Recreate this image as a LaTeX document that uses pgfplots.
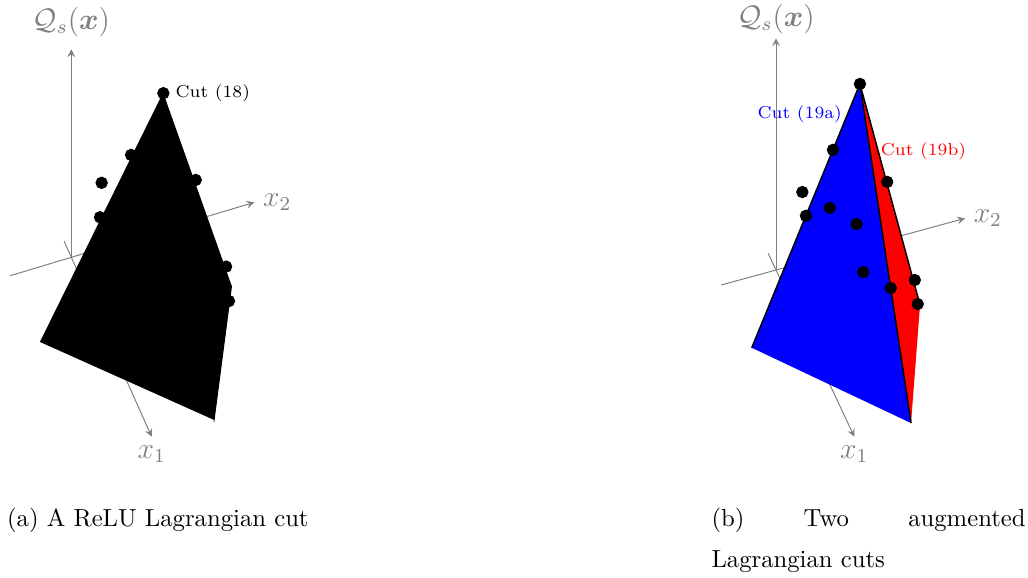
\documentclass[border=0pt]{standalone}
\usepackage{amsmath}
\usepackage{pgfplots}
\pgfplotsset{compat=1.18}

% 1 px of the reference = 0.405pt
\pgfplotsset{
  cutaxis/.style={
    axis lines=center,
    axis line style={gray},
    xtick=\empty, ytick=\empty, ztick=\empty,
    xmax=1, ymax=1, zmin=0, zmax=1,
    clip=false,
    xlabel={$x_1$}, ylabel={$x_2$}, zlabel={$\mathcal{Q}_s(\boldsymbol{x})$},
    every axis label/.append style={gray, font=\large},
    every axis x label/.style={at={(axis cs:1,0,0)}, anchor=north},
    every axis y label/.style={at={(axis cs:0,1,0)}, anchor=west},
    every axis z label/.style={at={(axis cs:0,0,1)}, anchor=south, yshift=1.5pt},
  },
  dots/.style={only marks, mark=*, mark size=2.3pt, black},
}

\begin{document}
\begin{tikzpicture}
\useasboundingbox (0,0) rectangle (416.34pt,-233.69pt);

% (a) ReLU Lagrangian cut
\begin{axis}[
    cutaxis,
    at={(28.88pt,-104.21pt)}, anchor=origin,
    x={(32.56pt,-72.66pt)}, y={(74.12pt,22.28pt)}, z={(0pt,84.24pt)},
    xmin=-0.09, ymin=-0.335,
]
\addplot3[fill=black, draw=black] coordinates {
    (0,0.503,0.656) (0.369,-0.330,0) (1.007,0.338,0)
};
\addplot3[fill=black, draw=black] coordinates {
    (0,0.503,0.656) (1.007,0.338,0) (0.375,0.711,0)
};
\addplot3[dots] coordinates {
    (0,0.503,0.656) (0.09,0.287,0.494) (0.3,0.034,0.608) (0.2,0.069,0.347)
    (0.3,0.179,0.435) (0.4,0.296,0.413) (0.6,0.244,0.377) (0.1,0.636,0.290)
    (0.7,0.362,0.354) (0.5,0.626,0.221) (0.6,0.598,0.149)
};
\end{axis}

% (b) two augmented Lagrangian cuts
\begin{axis}[
    cutaxis,
    every axis z label/.append style={inner sep=0pt, yshift=0.2pt},
    at={(314.28pt,-109.35pt)}, anchor=origin,
    x={(31.71pt,-67.51pt)}, y={(76.55pt,20.94pt)}, z={(0pt,93.84pt)},
    xmin=-0.1, ymin=-0.29,
]
\addplot3[fill=blue, draw=none] coordinates {
    (0,0.444,0.704) (0.378,-0.285,0) (1.010,0.296,0)
};
\addplot3[fill=red, draw=none] coordinates {
    (0,0.444,0.704) (1.010,0.296,0) (0.396,0.598,0)
};
\addplot3[black, line width=0.6pt] coordinates {
    (0.378,-0.285,0) (0,0.444,0.704) (1.010,0.296,0)
};
\addplot3[black, line width=0.6pt] coordinates {
    (0,0.444,0.704) (0.396,0.598,0)
};
\addplot3[dots] coordinates {
    (0,0.444,0.704) (0.0945,0.262,0.528) (0.3,0.015,0.549) (0.189,0.080,0.352)
    (0.3,0.160,0.448) (0.4,0.261,0.428) (0.6,0.213,0.375) (0.1,0.547,0.330)
    (0.7,0.317,0.355) (0.5,0.527,0.199) (0.6,0.501,0.173)
};
\end{axis}

\node[anchor=west, inner sep=0pt, font=\scriptsize] at (70.9pt,-37.8pt) {Cut (18)};
\node[blue, font=\scriptsize] at (323.9pt,-46.3pt) {Cut (19a)};
\node[red, font=\scriptsize] at (374.0pt,-61.4pt) {Cut (19b)};

\node[anchor=base west, inner sep=0pt] at (2.67pt,-213.4pt) {(a) A ReLU Lagrangian cut};
\node[anchor=base west, inner sep=0pt] at (287.96pt,-213.4pt) {\makebox[127.2pt][s]{(b) Two augmented}};
\node[anchor=base west, inner sep=0pt] at (287.96pt,-229.9pt) {Lagrangian cuts};
\end{tikzpicture}
\end{document}
